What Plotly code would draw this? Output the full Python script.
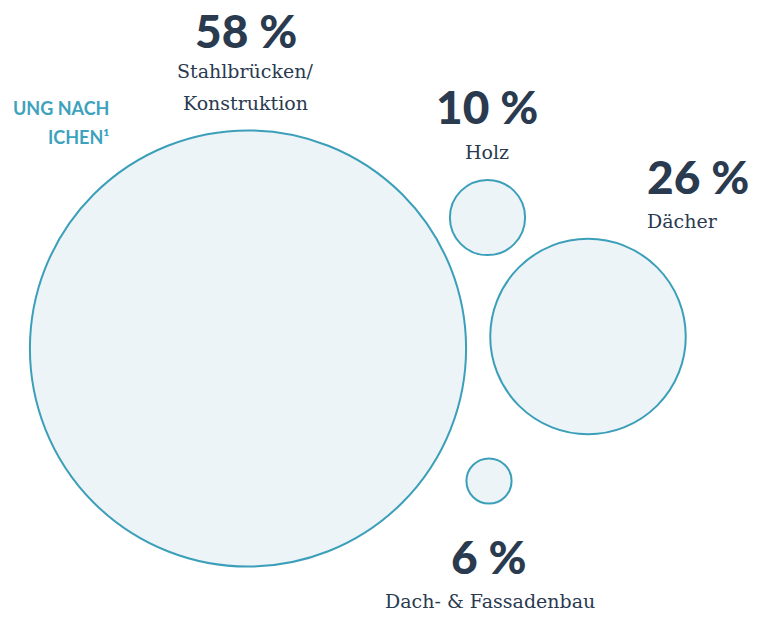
import plotly.graph_objects as go

# ---- data ----
categories = ["Stahlbrücken/<br>Konstruktion", "Holz", "Dächer", "Dach- & Fassadenbau"]
shares = [58, 10, 26, 6]
pct_labels = ["58 %", "10 %", "26 %", "6 %"]
title_lines = ["UNG NACH", "ICHEN¹"]

# ---- layout (pixel positions in the window) ----
W, H = 773, 618
OFF = 8  # page body margin
centers = [(248, 348.5), (487.5, 217.5), (588, 336.5), (489, 481)]
px_per_pct = 3.76
pct_pos = [(246, 30, "center"), (487, 106, "center"), (645, 176, "left"), (489, 556, "center")]
cat_pos = [(245, 71, "center"), (487, 152, "center"), (645, 221, "left"), (490, 601, "center")]
line_pitch = 32

NAVY = "#2a3a4f"
TEAL = "#3da2bd"
FILL = "#ecf4f8"
LINE = "#3c9fba"

fig = go.Figure()
for (cx, cy), v in zip(centers, shares):
    r = v * px_per_pct
    fig.add_shape(type="circle", xref="x", yref="y",
                  x0=cx - r, x1=cx + r, y0=cy - r, y1=cy + r,
                  line=dict(color=LINE, width=2), fillcolor=FILL, layer="below")

for (x, y, al), t in zip(pct_pos, pct_labels):
    fig.add_annotation(x=x, y=y, text=t, showarrow=False, xanchor=al, yanchor="middle",
                       font=dict(family="Lato", size=46, color=NAVY, weight=900))
for (x, y, al), t in zip(cat_pos, categories):
    for i, line in enumerate(t.split("<br>")):
        fig.add_annotation(x=x, y=y + i * line_pitch, text=line, showarrow=False,
                           xanchor=al, yanchor="middle", align=al,
                           font=dict(family="DejaVu Sans" if False else "DejaVu Serif",
                                     size=19, color=NAVY))

for i, line in enumerate(title_lines):
    fig.add_annotation(x=111, y=108 + i * 29, text="<b>" + line + "</b>", showarrow=False,
                       xanchor="right", yanchor="middle",
                       font=dict(family="Lato", size=18, color=TEAL))

fig.update_layout(width=W, height=H, margin=dict(l=0, r=0, t=0, b=0),
                  paper_bgcolor="white", plot_bgcolor="white", showlegend=False)
fig.update_xaxes(range=[OFF, W + OFF], visible=False, fixedrange=True)
fig.update_yaxes(range=[H + OFF, OFF], visible=False, fixedrange=True)

fig.write_html("out.html")
